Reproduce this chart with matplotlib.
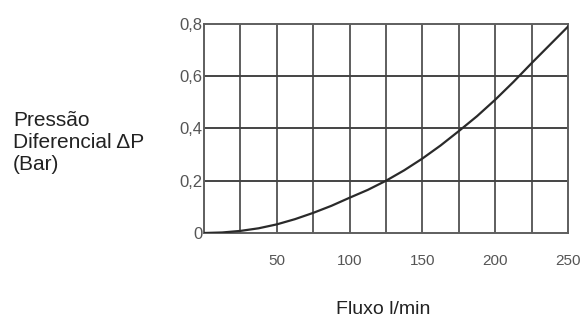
import matplotlib.pyplot as plt
import numpy as np

# values
fluxo = [0, 12.5, 25, 37.5, 50, 62.5, 75, 87.5, 100, 112.5, 125,
         137.5, 150, 162.5, 175, 187.5, 200, 212.5, 225, 237.5, 250]
delta_p = [0.0, 0.002, 0.008, 0.018, 0.033, 0.053, 0.077, 0.104, 0.135, 0.165, 0.2,
           0.24, 0.285, 0.335, 0.39, 0.447, 0.51, 0.578, 0.65, 0.72, 0.79]

x_ticks = [50, 100, 150, 200, 250]
y_ticks = [0, 0.2, 0.4, 0.6, 0.8]
y_labels = ["0", "0,2", "0,4", "0,6", "0,8"]

plt.rcParams['font.family'] = ['Liberation Sans', 'DejaVu Sans']

fig = plt.figure(figsize=(5.87, 3.22), dpi=100)
ax = fig.add_axes([0.3475, 0.2764, 0.6201, 0.6491])

grid_c = '#5e5e5e'
for xv in np.arange(25, 250, 25):
    ax.axvline(xv, color=grid_c, lw=1.4, zorder=1)
for yv in y_ticks[1:-1]:
    ax.axhline(yv, color='#444444', lw=1.4, zorder=1)

ax.plot(fluxo, delta_p, color='#2a2a2a', lw=1.6, zorder=3)

ax.set_xlim(0, 250)
ax.set_ylim(0, 0.8)
for s in ax.spines.values():
    s.set_color(grid_c)
    s.set_linewidth(1.4)

ax.set_xticks(x_ticks)
ax.set_yticks(y_ticks)
ax.set_yticklabels(y_labels)
ax.tick_params(axis='x', length=0, pad=15, labelsize=11, labelcolor='#555555')
ax.tick_params(axis='y', length=0, pad=1, labelsize=12, labelcolor='#555555')

fig.text(0.022, 1 - 142 / 322, "Pressão\nDiferencial ΔP\n(Bar)", fontsize=15,
         ha='left', va='center', linespacing=1.2, color='#222222')
fig.text(383 / 587, 1 - 310 / 322, "Fluxo l/min", fontsize=14, ha='center',
         va='center', color='#222222')

fig.savefig("out.png", dpi=100)
